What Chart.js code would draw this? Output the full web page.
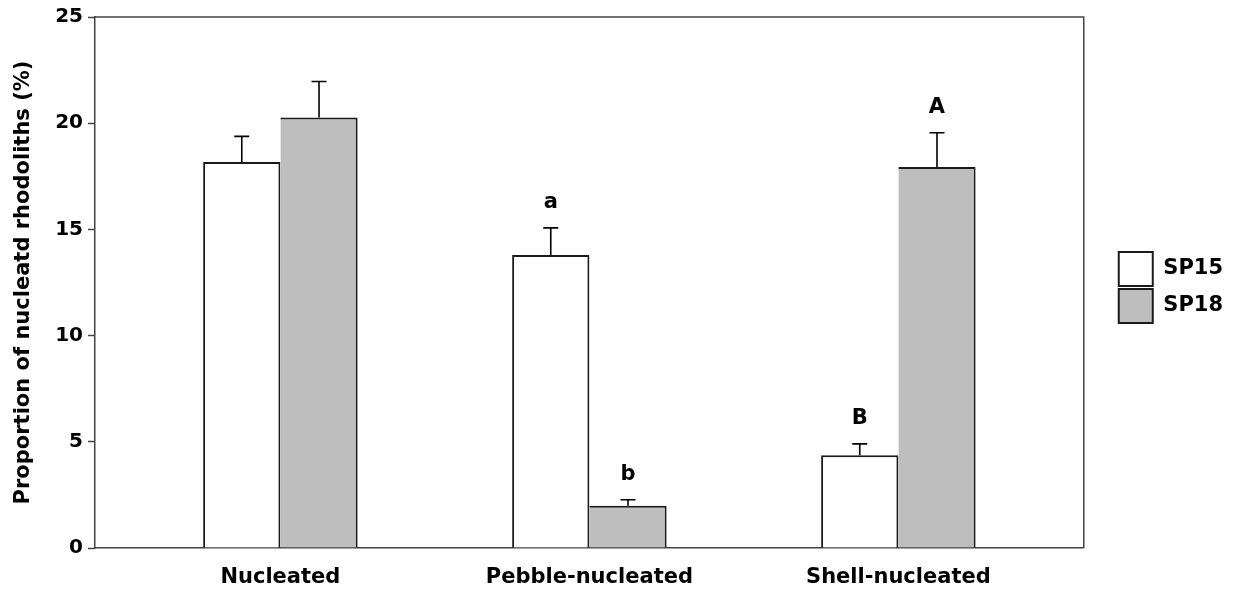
<!DOCTYPE html>
<html>
<head>
<meta charset="utf-8">
<script src="https://cdn.jsdelivr.net/npm/chart.js@4/dist/chart.umd.min.js"></script>
<style>
  html, body { margin: 0; padding: 0; background: #fff; }
  #wrap { width: 1239px; height: 594px; }
</style>
</head>
<body>
<div id="wrap"><canvas id="chart"></canvas></div>
<script>
// ── Data ────────────────────────────────────────────────────────
const categories = ['Nucleated', 'Pebble-nucleated', 'Shell-nucleated'];
const sp15 = [18.17, 13.80, 4.37];
const sp15Err = [1.21, 1.27, 0.53];
const sp18 = [20.27, 1.99, 17.94];
const sp18Err = [1.69, 0.28, 1.61];
const sp15Letters = ['', 'a', 'B'];
const sp18Letters = ['', 'b', 'A'];
const yMin = 0, yMax = 25, yStep = 5;

const AXIS = '#444';
const FONT = 'DejaVu Sans';

Chart.defaults.font.family = FONT;
Chart.defaults.font.weight = 'bold';
Chart.defaults.color = '#000';

// error bars + significance letters on top of each bar
const errorBars = {
  id: 'errorBars',
  afterDatasetsDraw(chart) {
    const { ctx } = chart;
    const yScale = chart.scales.y;
    const errs = [sp15Err, sp18Err];
    const letters = [sp15Letters, sp18Letters];
    const means = [sp15, sp18];
    ctx.save();
    chart.data.datasets.forEach((ds, d) => {
      const meta = chart.getDatasetMeta(d);
      meta.data.forEach((bar, i) => {
        const top = yScale.getPixelForValue(means[d][i] + errs[d][i]);
        ctx.strokeStyle = '#000';
        ctx.lineWidth = 1.6;
        ctx.beginPath();
        ctx.moveTo(bar.x, bar.y);
        ctx.lineTo(bar.x, top);
        ctx.moveTo(bar.x - 7.5, top);
        ctx.lineTo(bar.x + 7.5, top);
        ctx.stroke();
        if (letters[d][i]) {
          ctx.fillStyle = '#000';
          ctx.font = `bold 21px "${FONT}"`;
          ctx.textAlign = 'center';
          ctx.textBaseline = 'middle';
          ctx.fillText(letters[d][i], bar.x, top - 25);
        }
      });
    });
    ctx.restore();
  }
};

// top and right edges of the plot frame
const frame = {
  id: 'frame',
  afterDraw(chart) {
    const { ctx, chartArea: a } = chart;
    ctx.save();
    ctx.strokeStyle = AXIS;
    ctx.lineWidth = 1.5;
    ctx.beginPath();
    ctx.moveTo(a.left, a.top);
    ctx.lineTo(a.right, a.top);
    ctx.lineTo(a.right, a.bottom);
    ctx.stroke();
    ctx.restore();
  }
};

new Chart(document.getElementById('chart'), {
  type: 'bar',
  data: {
    datasets: [
      {
        label: 'SP15',
        data: categories.map((c, i) => ({ x: i + 1, y: sp15[i] })),
        backgroundColor: '#ffffff',
        borderColor: '#1a1a1a',
        borderWidth: 2,
        barPercentage: 1,
        categoryPercentage: 0.5,
      },
      {
        label: 'SP18',
        data: categories.map((c, i) => ({ x: i + 1, y: sp18[i] })),
        backgroundColor: '#bebebe',
        borderColor: '#1a1a1a',
        borderWidth: { left: 0, top: 2, right: 2, bottom: 0 },
        barPercentage: 1,
        categoryPercentage: 0.5,
      },
    ],
  },
  options: {
    responsive: true,
    maintainAspectRatio: false,
    animation: false,
    layout: { padding: { left: 0, top: 16, right: 6, bottom: 0 } },
    plugins: {
      tooltip: { enabled: false },
      legend: {
        position: 'right',
        align: 'start',
        // empty title only pushes the legend items down
        title: { display: true, text: '', font: { size: 10 }, padding: { top: 221, bottom: 0 } },
        labels: {
          boxWidth: 34,
          boxHeight: 34,
          padding: 3,
          color: '#000',
          font: { size: 21, weight: 'bold' },
          generateLabels: (chart) =>
            Chart.defaults.plugins.legend.labels.generateLabels(chart).map(l => ({ ...l, lineWidth: 2 })),
        },
      },
    },
    scales: {
      x: {
        type: 'linear',
        min: 0.4,
        max: 3.6,
        offset: false,
        afterBuildTicks: (scale) => { scale.ticks = categories.map((c, i) => ({ value: i + 1 })); },
        afterFit: (scale) => { scale.height = 46; },
        ticks: {
          callback: (v) => categories[v - 1],
          font: { size: 21, weight: 'bold' },
          color: '#000',
          padding: 0,
          maxRotation: 0,
          autoSkip: false,
        },
        grid: { display: true, offset: false, drawOnChartArea: false, tickLength: 17, tickColor: 'rgba(0,0,0,0)' },
        border: { display: true, color: AXIS, width: 1.5 },
      },
      y: {
        min: yMin,
        max: yMax,
        afterFit: (scale) => { scale.width = 95; },
        ticks: {
          stepSize: yStep,
          font: { size: 20, weight: 'bold' },
          color: '#000',
          padding: 5,
        },
        grid: { drawOnChartArea: false, tickLength: 7, tickColor: AXIS, tickWidth: 1.5 },
        border: { display: true, color: AXIS, width: 1.5 },
        title: {
          display: true,
          text: 'Proportion of nucleatd rhodoliths (%)',
          font: { size: 21, weight: 'bold' },
          color: '#000',
          padding: { top: 11, bottom: 0 },
        },
      },
      spacer: {
        type: 'linear',
        position: 'right',
        display: true,
        grid: { display: false },
        ticks: { display: false },
        border: { display: false },
        afterFit: (scale) => { scale.width = 32; },
      },
    },
  },
  plugins: [errorBars, frame],
});
</script>
</body>
</html>
